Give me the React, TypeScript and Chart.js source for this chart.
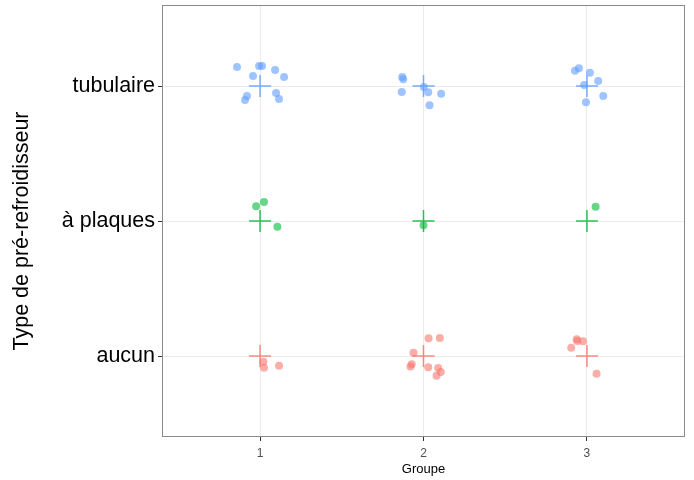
import React, { useEffect, useRef } from "react";
import { Chart, registerables } from "chart.js";

Chart.register(...registerables);

// Category levels (y axis) and groups (x axis)
const typeLabels = ["aucun", "à plaques", "tubulaire"];
const groupTicks = [1, 2, 3];
const yTitle = "Type de pré-refroidisseur";
const xTitle = "Groupe";

const aucunX = [1.02, 1.024, 1.116, 2.031, 2.1, 1.939, 1.928, 1.92, 2.029, 2.09, 2.106, 2.08, 2.937, 2.941, 2.976, 2.904, 3.059];
const aucunY = [0.958, 0.913, 0.928, 1.131, 1.133, 1.024, 0.939, 0.922, 0.916, 0.911, 0.881, 0.854, 1.124, 1.111, 1.109, 1.061, 0.869];

const plaquesX = [0.976, 1.024, 1.106, 2.0, 3.053];
const plaquesY = [2.109, 2.141, 1.958, 1.968, 2.106];

const tubulaireX = [0.859, 0.994, 1.012, 0.957, 1.092, 1.147, 0.92, 0.908, 1.098, 1.116, 1.87, 1.876, 1.867, 2.002, 2.029, 2.108, 2.037, 2.927, 2.951, 3.018, 3.069, 2.983, 3.1, 2.994];
const tubulaireY = [3.141, 3.148, 3.148, 3.074, 3.119, 3.067, 2.926, 2.896, 2.948, 2.904, 3.067, 3.05, 2.956, 2.993, 2.953, 2.943, 2.857, 3.113, 3.131, 3.099, 3.037, 3.007, 2.926, 2.879];

// Summary crosses (group, level)
const crossGroups = [1, 2, 3];
const aucunLevel = 1;
const plaquesLevel = 2;
const tubulaireLevel = 3;

const colAucun = "248,118,109";
const colPlaques = "0,186,56";
const colTubulaire = "97,156,255";

const zip = (xs: number[], ys: number[]) => xs.map((x, i) => ({ x, y: ys[i] }));

const borderPlugin = {
  id: "panelBorder",
  afterDraw(chart: any) {
    const { ctx, chartArea } = chart;
    ctx.save();
    ctx.strokeStyle = "#8a8a8a";
    ctx.lineWidth = 1;
    ctx.strokeRect(
      Math.round(chartArea.left) + 0.5,
      Math.round(chartArea.top) + 0.5,
      Math.round(chartArea.right - chartArea.left) - 1,
      Math.round(chartArea.bottom - chartArea.top) - 1
    );
    // y axis title
    ctx.fillStyle = "#000000";
    ctx.font = "21.5px 'Liberation Sans', Arial";
    ctx.textAlign = "center";
    ctx.textBaseline = "middle";
    ctx.translate(22, (chartArea.top + chartArea.bottom) / 2 + 10);
    ctx.rotate(-Math.PI / 2);
    ctx.fillText(yTitle, 0, 0);
    ctx.restore();
  },
};

export default function App() {
  const ref = useRef<HTMLCanvasElement>(null);

  useEffect(() => {
    if (!ref.current) return;
    const pts = (xs: number[], ys: number[], col: string) => ({
      type: "scatter" as const,
      data: zip(xs, ys),
      pointRadius: 4,
      pointHoverRadius: 4,
      backgroundColor: `rgba(${col},0.6)`,
      borderWidth: 0,
      borderColor: "rgba(0,0,0,0)",
    });
    const cross = (level: number, col: string) => ({
      type: "scatter" as const,
      data: crossGroups.map((g) => ({ x: g, y: level })),
      pointStyle: "cross" as const,
      pointRadius: 11,
      pointHoverRadius: 11,
      borderColor: `rgba(${col},0.85)`,
      backgroundColor: `rgba(${col},0.85)`,
      borderWidth: 1.5,
    });
    const chart = new Chart(ref.current, {
      type: "scatter",
      data: {
        datasets: [
          pts(aucunX, aucunY, colAucun),
          pts(plaquesX, plaquesY, colPlaques),
          pts(tubulaireX, tubulaireY, colTubulaire),
          cross(aucunLevel, colAucun),
          cross(plaquesLevel, colPlaques),
          cross(tubulaireLevel, colTubulaire),
        ] as any,
      },
      plugins: [borderPlugin],
      options: {
        animation: false,
        responsive: false,
        events: [],
        layout: { autoPadding: false, padding: { top: 5, right: 9, left: 0, bottom: 0 } },
        plugins: { legend: { display: false }, tooltip: { enabled: false } },
        scales: {
          x: {
            type: "linear",
            min: 0.4,
            max: 3.6,
            afterBuildTicks: (s: any) => {
              s.ticks = groupTicks.map((v) => ({ value: v }));
            },
            afterFit: (s: any) => {
              s.height = 43;
              s.paddingLeft = 0;
              s.paddingRight = 0;
            },
            ticks: {
              color: "#4d4d4d",
              font: { family: "Liberation Sans, Arial", size: 12 },
              padding: 5,
              maxRotation: 0,
              callback: (v: any) => String(v),
            },
            grid: { color: "#ebebeb", tickColor: "#333333", tickLength: 4, lineWidth: 1 },
            border: { display: false },
            title: {
              display: true,
              text: xTitle,
              color: "#000000",
              font: { family: "Liberation Sans, Arial", size: 13 },
              padding: { top: 0, bottom: 3 },
            },
          },
          y: {
            type: "linear",
            min: 0.4,
            max: 3.6,
            afterBuildTicks: (s: any) => {
              s.ticks = [1, 2, 3].map((v) => ({ value: v }));
            },
            afterFit: (s: any) => {
              s.width = 162;
              s.paddingTop = 0;
              s.paddingBottom = 0;
            },
            ticks: {
              color: "#000000",
              font: { family: "Liberation Sans, Arial", size: 21.5 },
              padding: 3,
              callback: (v: any) => typeLabels[Math.round(v) - 1] ?? "",
            },
            grid: { color: "#ebebeb", tickColor: "#333333", tickLength: 4, lineWidth: 1 },
            border: { display: false },
            title: { display: false },
          },
        },
      },
    });
    return () => chart.destroy();
  }, []);

  return (
    <div style={{ position: "fixed", left: 0, top: 0, width: 694, height: 480, background: "#ffffff" }}>
      <canvas ref={ref} width={694} height={480} style={{ display: "block" }} />
    </div>
  );
}
